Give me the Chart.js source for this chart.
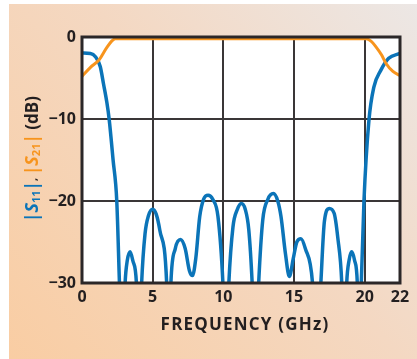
<!DOCTYPE html>
<html>
<head>
<meta charset="utf-8">
<script src="https://cdn.jsdelivr.net/npm/chart.js@4"></script>
<style>
  html, body { margin: 0; padding: 0; background: #ffffff; }
  canvas { display: block; }
</style>
</head>
<body>
<canvas id="c" width="417" height="359"></canvas>
<script>
// ---- Data ----
const xTickValues = [0, 5, 10, 15, 20, 22.5];
const xTickLabels = ['0', '5', '10', '15', '20', '22'];
const yTickValues = [0, -10, -20, -30];

// |S21| (orange)
const s21Freq = [0, 0.6, 1.2, 1.75, 2.1, 2.35, 2.6, 5, 10, 15, 19.9, 20.1, 20.45, 20.8, 21.2, 21.5, 22.0, 22.5];
const s21dB   = [-4.8, -3.7, -2.8, -1.3, -0.5, -0.2, -0.2, -0.2, -0.2, -0.2, -0.2, -0.2, -0.5, -1.2, -2.2, -3.2, -4.2, -4.7];

// |S11| (blue) — values below -30 dB fall outside the plot and are clipped
const s11Freq = [0, 0.6, 0.95, 1.29, 1.52, 1.76, 1.92, 2.2, 2.46, 2.65, 2.85,
  3.05, 3.2, 3.4, 3.6, 3.85, 4.03,
  4.22, 4.46, 4.7, 5.0, 5.25, 5.51, 5.99, 6.14,
  6.29, 6.6, 6.97, 7.3, 7.6, 7.82, 8.05, 8.33, 8.6, 8.92, 9.25, 9.62, 9.97, 10.18,
  10.39, 10.68, 11.0, 11.27, 11.55, 11.8, 12.04, 12.27,
  12.5, 12.79, 13.15, 13.54, 13.85, 14.08, 14.4, 14.67, 14.95, 15.2, 15.49, 15.8, 16.31, 16.6,
  16.9, 17.15, 17.49, 17.84, 18.1, 18.38, 18.55,
  18.73, 18.9, 19.08, 19.28, 19.48, 19.62,
  19.76, 19.95, 20.3, 20.65, 21.13, 21.7, 22.5];
const s11dB = [-1.95, -2.0, -2.4, -3.6, -5.7, -8.0, -10.0, -15.0, -20.0, -30.0, -40,
  -30, -27.3, -26.2, -27.3, -30, -40,
  -30, -24.0, -21.8, -21.0, -21.6, -23.6, -30, -40,
  -30, -25.8, -24.7, -25.8, -28.5, -29.1, -27.0, -21.9, -19.8, -19.3, -19.8, -21.9, -30, -40,
  -30, -23.2, -21.0, -20.3, -21.0, -23.5, -30, -40,
  -30, -22.3, -19.8, -19.1, -20.0, -21.9, -26.5, -29.2, -27.0, -25.0, -24.6, -25.8, -30, -40,
  -30, -22.5, -20.9, -21.5, -24.5, -30, -40,
  -30, -27.2, -26.2, -27.2, -30, -40,
  -30, -20.0, -10.2, -6.1, -4.1, -2.6, -2.0];

const BLUE = '#0b74b8';
const ORANGE = '#f7941d';
const DARK = '#231f20';
const FONT = '"Open Sans", "DejaVu Sans", sans-serif';

const toPts = (xs, ys) => xs.map((x, i) => ({ x: x, y: ys[i] }));

const decor = {
  id: 'decor',
  beforeDraw(chart) {
    const ctx = chart.ctx;
    ctx.save();
    ctx.fillStyle = '#ffffff';
    ctx.fillRect(0, 0, chart.width, chart.height);
    const g = ctx.createLinearGradient(9, 359, 417, 4);
    g.addColorStop(0, '#f9cda3');
    g.addColorStop(0.55, '#f4d8c2');
    g.addColorStop(1, '#ece7e5');
    ctx.fillStyle = g;
    ctx.fillRect(9, 4, chart.width - 9, chart.height - 4);
    const a = chart.chartArea;
    ctx.fillStyle = '#ffffff';
    ctx.fillRect(a.left, a.top, a.right - a.left, a.bottom - a.top);
    ctx.restore();
  },
  afterDatasetsDraw(chart) {
    const ctx = chart.ctx;
    const a = chart.chartArea;
    ctx.save();
    ctx.strokeStyle = '#2b2728';
    ctx.lineWidth = 3;
    ctx.strokeRect(a.left, a.top, a.right - a.left, a.bottom - a.top);
    ctx.restore();
  },
  afterDraw(chart) {
    const ctx = chart.ctx;
    ctx.save();
    // x-axis title
    ctx.fillStyle = DARK;
    ctx.font = 'bold 17px ' + FONT;
    try { ctx.letterSpacing = '1.2px'; } catch (e) {}
    ctx.textAlign = 'center';
    ctx.textBaseline = 'middle';
    ctx.fillText('FREQUENCY (GHz)', 245, 325);
    try { ctx.letterSpacing = '0px'; } catch (e) {}

    // y-axis title, rotated, multi-colour
    const parts = [
      { t: '|', c: BLUE, f: 'bold 17px ' + FONT, dy: 0 },
      { t: 'S', c: BLUE, f: 'italic bold 18px ' + FONT, dy: 0 },
      { t: '11', c: BLUE, f: 'bold 11px ' + FONT, dy: 4 },
      { t: '|', c: BLUE, f: 'bold 17px ' + FONT, dy: 0 },
      { t: ', ', c: DARK, f: 'bold 11px ' + FONT, dy: 1 },
      { t: '|', c: ORANGE, f: 'bold 17px ' + FONT, dy: 0 },
      { t: 'S', c: ORANGE, f: 'italic bold 18px ' + FONT, dy: 0 },
      { t: '21', c: ORANGE, f: 'bold 11px ' + FONT, dy: 4 },
      { t: '|', c: ORANGE, f: 'bold 17px ' + FONT, dy: 0 },
      { t: ' (dB)', c: DARK, f: 'bold 17px ' + FONT, dy: 0 }
    ];
    let total = 0;
    parts.forEach(p => { ctx.font = p.f; p.w = ctx.measureText(p.t).width; total += p.w; });
    ctx.translate(33, 159);
    ctx.rotate(-Math.PI / 2);
    ctx.textAlign = 'left';
    ctx.textBaseline = 'middle';
    let x = -total / 2;
    parts.forEach(p => {
      ctx.font = p.f;
      ctx.fillStyle = p.c;
      ctx.fillText(p.t, x, p.dy);
      x += p.w;
    });
    ctx.restore();
  }
};

new Chart(document.getElementById('c'), {
  type: 'line',
  data: {
    datasets: [
      {
        label: '|S21|',
        data: toPts(s21Freq, s21dB),
        borderColor: ORANGE,
        borderWidth: 3,
        pointRadius: 0,
        cubicInterpolationMode: 'monotone',
        fill: false
      },
      {
        label: '|S11|',
        data: toPts(s11Freq, s11dB),
        borderColor: BLUE,
        borderWidth: 3.5,
        pointRadius: 0,
        cubicInterpolationMode: 'monotone',
        fill: false
      }
    ]
  },
  options: {
    responsive: false,
    animation: false,
    events: [],
    layout: { padding: { top: 37, right: 17, left: 0, bottom: 0 } },
    plugins: { legend: { display: false }, tooltip: { enabled: false }, title: { display: false } },
    scales: {
      x: {
        type: 'linear',
        min: 0,
        max: 22.5,
        afterBuildTicks(scale) { scale.ticks = xTickValues.map(v => ({ value: v })); },
        afterFit(scale) { scale.height = 76; },
        ticks: {
          padding: 5,
          color: DARK,
          font: { family: FONT, size: 16, weight: 'bold' },
          maxRotation: 0,
          autoSkip: false,
          callback: (v) => { const i = xTickValues.indexOf(v); return i >= 0 ? xTickLabels[i] : ''; }
        },
        grid: { color: '#3a3637', lineWidth: 2, drawTicks: false },
        border: { display: false }
      },
      y: {
        type: 'linear',
        min: -30,
        max: 0,
        afterBuildTicks(scale) { scale.ticks = yTickValues.map(v => ({ value: v })); },
        afterFit(scale) { scale.width = 82; },
        ticks: {
          padding: 6,
          color: DARK,
          font: { family: FONT, size: 16, weight: 'bold' },
          callback: (v) => v === 0 ? '0' : '\u2212' + Math.abs(v)
        },
        grid: { color: '#3a3637', lineWidth: 2, drawTicks: false },
        border: { display: false }
      }
    }
  },
  plugins: [decor]
});
</script>
</body>
</html>
